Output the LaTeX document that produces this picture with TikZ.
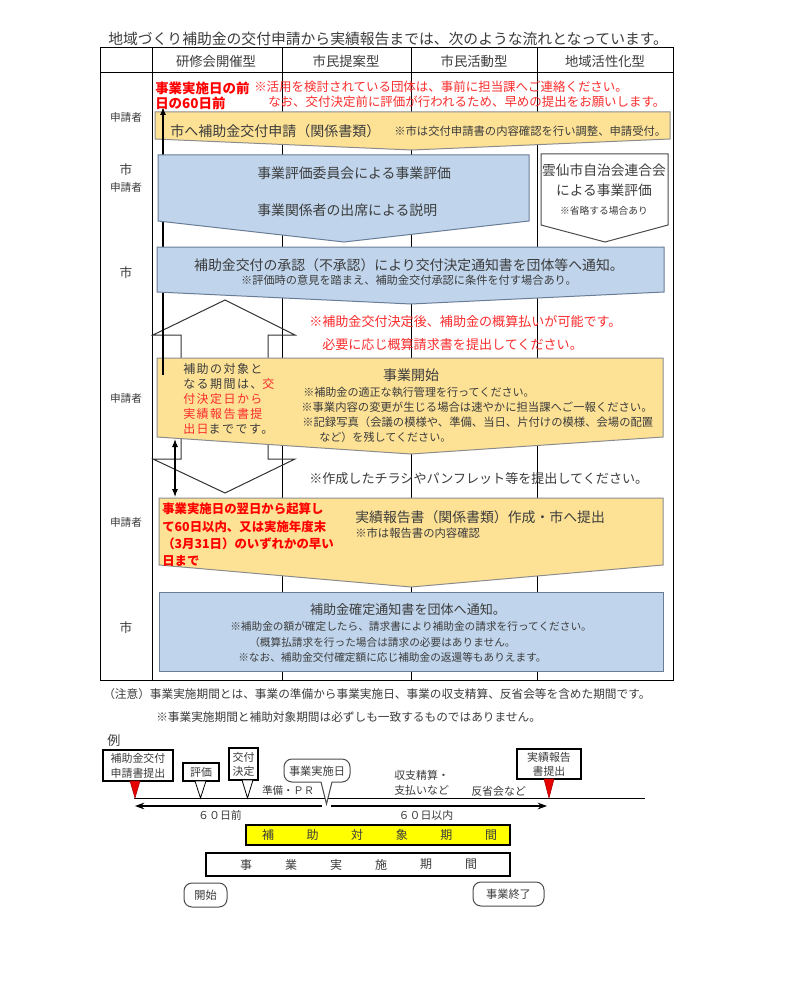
\documentclass[tikz,border=0pt]{standalone}
\usepackage{fontspec}
\setmainfont{Noto Sans CJK JP}
\newfontfamily\jpsp{Noto Sans CJK JP}[LetterSpace=12]
\usetikzlibrary{arrows.meta}
\definecolor{ylw}{RGB}{253,226,150}
\definecolor{ybd}{RGB}{140,140,140}
\definecolor{blu}{RGB}{192,213,236}
\definecolor{bbd}{RGB}{105,125,150}
\definecolor{tx}{RGB}{60,60,60}
\definecolor{rtx}{RGB}{250,45,45}
\definecolor{rbold}{RGB}{255,0,0}
\definecolor{ybar}{RGB}{255,255,0}
\definecolor{rtri}{RGB}{230,0,0}
\newcommand\fsz[1]{\fontsize{#1}{#1}\selectfont}
\begin{document}
\begin{tikzpicture}[x=0.75pt,y=-0.75pt,
  txc/.style={inner sep=0pt, text=tx},
  txw/.style={inner sep=0pt, text=tx, anchor=west},
  ln/.style={line width=0.75pt},
  ybox/.style={fill=ylw, draw=ybd, line width=0.75pt},
  bbox/.style={fill=blu, draw=bbd, line width=0.75pt},
  wtri/.style={draw=black, line width=0.6pt, fill=white},
  rtr/.style={fill=rtri, draw=rtri!70!black, line width=0.4pt},
  rbx/.style={draw=black!70, line width=0.75pt, rounded corners=6pt, fill=white},
  sbx/.style={draw=black, line width=0.9pt, fill=white},
]
\useasboundingbox (0,0) rectangle (800,988);
\fill[white] (0,0) rectangle (800,988);

% ---------- title ----------
\node[txw, font=\fsz{11.1pt}] (title) at (108,39) {地域づくり補助金の交付申請から実績報告までは、次のような流れとなっています。};

% ---------- table ----------
\draw[ln] (100,48) rectangle (673,680);
\draw[ln] (100,73) -- (673,73);
\foreach \xx in {152,282,411,537} \draw[ln] (\xx,48) -- (\xx,680);

\node[txc, font=\fsz{10pt}] (h1) at (216,61) {研修会開催型};
\node[txc, font=\fsz{10pt}] (h2) at (346,61) {市民提案型};
\node[txc, font=\fsz{10pt}] (h3) at (474,61) {市民活動型};
\node[txc, font=\fsz{10pt}] (h4) at (605,61) {地域活性化型};

\node[txc, font=\fsz{8pt}] (r1) at (126,117) {申請者};
\node[txc, font=\fsz{9.5pt}] (r2a) at (126,170) {市};
\node[txc, font=\fsz{8pt}] (r2b) at (126,187) {申請者};
\node[txc, font=\fsz{9.5pt}] (r3) at (126,273) {市};
\node[txc, font=\fsz{8pt}] (r4) at (126,398) {申請者};
\node[txc, font=\fsz{8pt}] (r5) at (126,522) {申請者};
\node[txc, font=\fsz{9.5pt}] (r6) at (126,628) {市};

% ---------- double block arrow (outline) ----------
\draw[line width=0.75pt, draw=black!80] (225,300) -- (295,335) -- (268,335) -- (268,459) -- (295,459)
  -- (225,493) -- (153,459) -- (181,459) -- (181,335) -- (153,335) -- cycle;

% ---------- yellow boxes ----------
\draw[ybox] (155,112) -- (670,112) -- (670,139) -- (412,150) -- (155,139) -- cycle;
\draw[ybox] (157,358) -- (663,358) -- (663,437) -- (411,454) -- (157,437) -- cycle;
\draw[ybox] (159,498) -- (663,498) -- (663,565) -- (411,587) -- (159,565) -- cycle;

% thin arrow up to "60日前"
\coordinate (a1s) at (163,375);
\coordinate (a1e) at (163,107);
\draw[line width=0.8pt, -{Latex[length=6pt,width=4.5pt]}] (a1s) -- (a1e);

% ---------- blue boxes ----------
\draw[bbox] (158,155) -- (529,155) -- (529,221) -- (344,242) -- (158,221) -- cycle;
\draw[line width=0.75pt, draw=black!70, fill=white] (541,154) -- (668,154) -- (668,225) -- (605,242) -- (541,225) -- cycle;
\draw[bbox] (157,247) -- (664,247) -- (664,292) -- (411,304) -- (157,292) -- cycle;
\draw[bbox] (159,592) rectangle (663,671);

% small double arrow between yellow 2 and yellow 3
\coordinate (a2s) at (175,439);
\coordinate (a2e) at (175,497);
\draw[line width=0.8pt, {Latex[length=6pt,width=4.5pt]}-{Latex[length=6pt,width=4.5pt]}] (a2s) -- (a2e);

% ---------- texts row 1 ----------
\node[txw, font=\fsz{10.1pt}\bfseries, text=rbold] (rb1) at (155,88) {事業実施日の前};
\node[txw, font=\fsz{10.1pt}\bfseries, text=rbold] (rb2) at (155,103) {日の60日前};
\node[txw, font=\fsz{9.35pt}, text=rtx] (rn1) at (254,87) {※活用を検討されている団体は、事前に担当課へご連絡ください。};
\node[txw, font=\fsz{9.35pt}, text=rtx] (rn2) at (268,102) {なお、交付決定前に評価が行われるため、早めの提出をお願いします。};
\node[txw, font=\fsz{10.5pt}] (y1a) at (170,131) {市へ補助金交付申請（関係書類）};
\node[txw, font=\fsz{8.5pt}] (y1b) at (394,131) {※市は交付申請書の内容確認を行い調整、申請受付。};

% ---------- blue 1 / pentagon ----------
\node[txw, font=\fsz{10.4pt}] (b1a) at (257,173) {事業評価委員会による事業評価};
\node[txw, font=\fsz{10.4pt}] (b1b) at (257,210) {事業関係者の出席による説明};
\node[txc, font=\fsz{10.3pt}] (p1) at (604,170) {雲仙市自治会連合会};
\node[txc, font=\fsz{10.3pt}] (p2) at (604,190) {による事業評価};
\node[txc, font=\fsz{7.3pt}] (p3) at (604,211) {※省略する場合あり};

% ---------- blue 2 ----------
\node[txc, font=\fsz{10.4pt}] (b2a) at (409,265) {補助金交付の承認（不承認）により交付決定通知書を団体等へ通知。};
\node[txc, font=\fsz{8.4pt}] (b2b) at (409,280) {※評価時の意見を踏まえ、補助金交付承認に条件を付す場合あり。};

% ---------- red middle notes ----------
\node[txw, font=\fsz{9.8pt}, text=rtx] (rm1) at (309,322) {※補助金交付決定後、補助金の概算払いが可能です。};
\node[txw, font=\fsz{9.8pt}, text=rtx] (rm2) at (322,345) {必要に応じ概算請求書を提出してください。};

% ---------- yellow 2 ----------
\node[txw, font=\jpsp\fsz{9pt}] (s1) at (183,369) {補助の対象と};
\node[txw, font=\jpsp\fsz{9pt}] (s2) at (183,384) {なる期間は、\textcolor{rtx}{交}};
\node[txw, font=\jpsp\fsz{9pt}, text=rtx] (s3) at (183,399) {付決定日から};
\node[txw, font=\jpsp\fsz{9pt}, text=rtx] (s4) at (183,414) {実績報告書提};
\node[txw, font=\jpsp\fsz{9pt}] (s5) at (183,429) {\textcolor{rtx}{出日}までです。};
\node[txc, font=\fsz{10.5pt}] (y2a) at (411,375) {事業開始};
\node[txw, font=\fsz{8.3pt}] (y2b) at (303,392) {※補助金の適正な執行管理を行ってください。};
\node[txw, font=\fsz{8.5pt}] (y2c) at (301,407) {※事業内容の変更が生じる場合は速やかに担当課へご一報ください。};
\node[txw, font=\fsz{8.5pt}] (y2d) at (302,422) {※記録写真（会議の模様や、準備、当日、片付けの模様、会場の配置};
\node[txw, font=\fsz{8.3pt}] (y2e) at (319,437) {など）を残してください。};

\node[txw, font=\fsz{9.8pt}] (chr) at (309,479) {※作成したチラシやパンフレット等を提出してください。};

% ---------- yellow 3 ----------
\node[txw, font=\fsz{9.3pt}\bfseries, text=rbold] (y3r1) at (162,509) {事業実施日の翌日から起算し};
\node[txw, font=\fsz{9.3pt}\bfseries, text=rbold] (y3r2) at (162,527) {て60日以内、又は実施年度末};
\node[txw, font=\fsz{9.3pt}\bfseries, text=rbold] (y3r3) at (162,544) {（3月31日）のいずれかの早い};
\node[txw, font=\fsz{9.3pt}\bfseries, text=rbold] (y3r4) at (162,561) {日まで};
\node[txw, font=\fsz{10.4pt}] (y3a) at (355,517) {実績報告書（関係書類）作成・市へ提出};
\node[txw, font=\fsz{8.5pt}] (y3b) at (355,533) {※市は報告書の内容確認};

% ---------- blue 4 ----------
\node[txc, font=\fsz{9.8pt}] (b4a) at (408,610) {補助金確定通知書を団体へ通知。};
\node[txw, font=\fsz{8pt}] (b4b) at (230,626) {※補助金の額が確定したら、請求書により補助金の請求を行ってください。};
\node[txw, font=\fsz{8pt}] (b4c) at (249,642) {（概算払請求を行った場合は請求の必要はありません。};
\node[txw, font=\fsz{8pt}] (b4d) at (238,657) {※なお、補助金交付確定額に応じ補助金の返還等もありえます。};

% ---------- notes ----------
\node[txw, font=\fsz{8.75pt}] (n1) at (103,694) {（注意）事業実施期間とは、事業の準備から事業実施日、事業の収支精算、反省会等を含めた期間です。};
\node[txw, font=\fsz{8.75pt}] (n2) at (156,717) {※事業実施期間と補助対象期間は必ずしも一致するものではありません。};
\node[txw, font=\fsz{9.8pt}] (rei) at (107,741) {例};

% ---------- timeline ----------
\coordinate (tl1) at (134,798);
\coordinate (tl2) at (645,798);
\draw[ln] (tl1) -- (tl2);

\draw[sbx] (103,750) rectangle (173,781);
\node[txc, font=\fsz{8.2pt}] (ta1) at (138,758) {補助金交付};
\node[txc, font=\fsz{8.2pt}] (ta2) at (138,773) {申請書提出};
\draw[rtr] (130,781) -- (140,781) -- (135,798) -- cycle;

\draw[sbx] (183,763) rectangle (219,781);
\node[txc, font=\fsz{8.2pt}] (tb) at (201,772) {評価};
\draw[wtri] (195,781) -- (206,781) -- (200.5,798) -- cycle;

\draw[sbx] (229,748) rectangle (258,780);
\node[txc, font=\fsz{8.2pt}] (tc1) at (243.5,757) {交付};
\node[txc, font=\fsz{8.2pt}] (tc2) at (243.5,771) {決定};
\draw[wtri] (242,780) -- (253,780) -- (247.5,798) -- cycle;

\draw[rbx] (284,759) rectangle (350,782);
\node[txc, font=\fsz{8.4pt}] (td) at (317,771) {事業実施日};
\fill[white] (321,781) -- (332,781) -- (326.5,804) -- cycle;
\draw[line width=0.75pt, draw=black!70] (321,782) -- (326.5,804) -- (332,782);

\node[txw, font=\fsz{7.8pt}] (prep) at (262,791) {準備・ＰＲ};
\node[txw, font=\fsz{8.2pt}] (shu1) at (394,775) {収支精算・};
\node[txw, font=\fsz{8.2pt}] (shu2) at (394,790) {支払いなど};
\node[txw, font=\fsz{8.2pt}] (han) at (471,791) {反省会など};

\draw[sbx] (517,749) rectangle (581,779);
\node[txc, font=\fsz{8.2pt}] (te1) at (549,757) {実績報告};
\node[txc, font=\fsz{8.2pt}] (te2) at (549,771) {書提出};
\draw[rtr] (544,779) -- (554,779) -- (549,798) -- cycle;

\coordinate (al1) at (322,806);
\coordinate (al2) at (135,806);
\coordinate (ar1) at (331,806);
\coordinate (ar2) at (547,806);
\draw[line width=0.8pt, -{Stealth[length=7pt,width=5pt]}] (al1) -- (al2);
\draw[line width=0.8pt, -{Stealth[length=7pt,width=5pt]}] (ar1) -- (ar2);
\node[txc, font=\fsz{8.2pt}] (d60a) at (220,815) {６０日前};
\node[txc, font=\fsz{8.2pt}] (d60b) at (426,815) {６０日以内};

\draw[line width=0.9pt, fill=ybar] (246,825) rectangle (510,845);
\foreach \c [count=\i from 0] in {補,助,対,象,期,間}
  \node[txc, font=\fsz{9pt}] (yc\i) at (268+44.6*\i,835) {\c};
\draw[sbx] (206,853) rectangle (510,876);
\foreach \c [count=\i from 0] in {事,業,実,施,期,間}
  \node[txc, font=\fsz{9pt}] (wc\i) at (246+45*\i,864.5) {\c};

\draw[rbx] (184,883) rectangle (227,907);
\node[txc, font=\fsz{8.4pt}] (kai) at (205.5,895) {開始};
\draw[rbx] (473,882) rectangle (544,906);
\node[txc, font=\fsz{8.4pt}] (owa) at (508.5,894) {事業終了};
\end{tikzpicture}
\end{document}
